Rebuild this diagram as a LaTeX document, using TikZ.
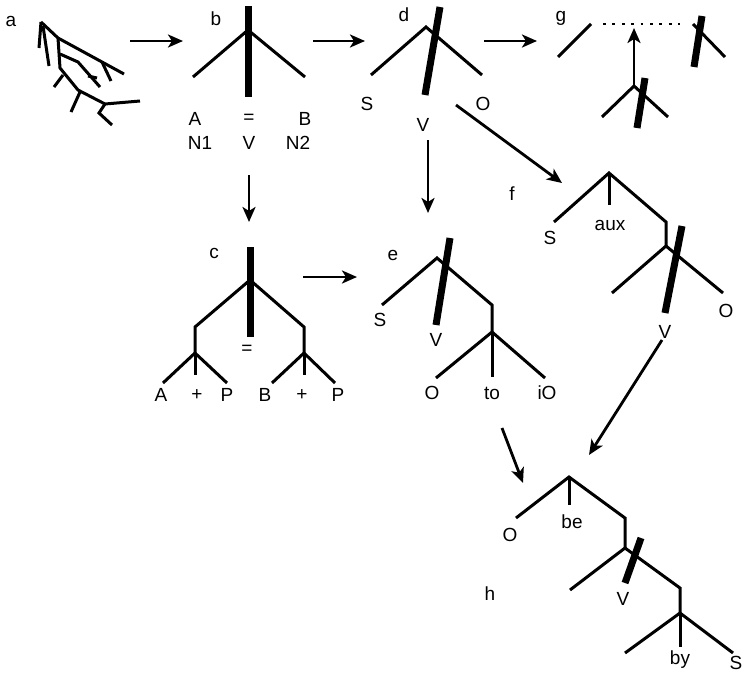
\documentclass[tikz,border=0pt]{standalone}
\usepackage{fontspec}
\setmainfont{Liberation Sans}
\usetikzlibrary{arrows.meta}
\begin{document}
\begin{tikzpicture}[x=1pt,y=-1pt,
  tl/.style={line width=3pt},
  tk/.style={line width=7pt},
  lbl/.style={inner sep=0pt, font=\fontsize{19}{22}\selectfont},
  arr/.style={line width=2.8pt, -{Stealth[length=15pt,width=13pt,inset=4pt]}},
  dotline/.style={line width=2.8pt, dash pattern=on 2.8pt off 6.6pt}]
\useasboundingbox (0,0) rectangle (744,680);

% ---------- a ----------
\node[lbl] (la) at (11,21) {a};
\coordinate (a0) at (41,22);
\coordinate (a1) at (58,38);
\coordinate (a2) at (60,68);
\coordinate (a3) at (78,90);
\coordinate (a4) at (105,104);
\draw[tl] (a0) -- (39,48);
\draw[tl] (43,26) -- (49,66);
\draw[tl] (a0) -- (a1) -- (124,74);
\draw[tl] (102,62) -- (111,81);
\draw[tl] (a1) -- (a2) -- (a3) -- (a4) -- (140,101);
\draw[tl] (60,54) -- (78,62) -- (100,87);
\draw[tl] (88,76) -- (97,78);
\draw[tl] (63,75) -- (54,87);
\draw[tl] (80,92) -- (71,112);
\draw[tl] (a4) -- (99,113) -- (112,125);

% ---------- b ----------
\node[lbl] (lb) at (216,19) {b};
\coordinate (b0) at (248,30);
\coordinate (btop) at (248,6);
\coordinate (bbot) at (248,97);
\draw[tk] (btop) -- (bbot);
\draw[tl] (193,77) -- (b0) -- (305,77);
\node[lbl] (bA) at (195,119) {A};
\node[lbl] (bEq) at (249,119) {=};
\node[lbl] (bB) at (305,119) {B};
\node[lbl] (bN1) at (200,143) {N1};
\node[lbl] (bV) at (249,143) {V};
\node[lbl] (bN2) at (298,143) {N2};

% ---------- d ----------
\node[lbl] (ld) at (404,15) {d};
\coordinate (d0) at (426,27);
\draw[tl] (371,75) -- (d0) -- (482,75);
\draw[tk] (440,7) -- (425,95);
\node[lbl] (dS) at (367,104) {S};
\node[lbl] (dO) at (483,104) {O};
\node[lbl] (dV) at (423,125) {V};

% ---------- g ----------
\node[lbl] (lg) at (561,18) {g};
\draw[tl] (558,57) -- (591,24);
\draw[dotline] (603,24) -- (680,24);
\draw[tk] (702,16) -- (694,67);
\draw[tl] (693,24) -- (725,57);
\coordinate (g0) at (634,86);
\coordinate (gtop) at (634,28);
\draw[tl] (602,117) -- (g0) -- (668,117);
\draw[tk] (645,78) -- (637,128);

% ---------- c ----------
\node[lbl] (lc) at (214,253) {c};
\coordinate (c0) at (250,280);
\coordinate (cl) at (195,353);
\coordinate (cr) at (304,353);
\draw[tk] (250,247) -- (250,337);
\draw[tl] (cl) -- (195,327) -- (c0) -- (304,327) -- (cr);
\draw[tl] (163,383) -- (cl) -- (227,383);
\draw[tl] (cl) -- (195,375);
\draw[tl] (272,383) -- (cr) -- (335,383);
\draw[tl] (cr) -- (304,375);
\node[lbl] (cEq) at (247,350) {=};
\node[lbl] (cA) at (161,395) {A};
\node[lbl] (cp1) at (197,395) {+};
\node[lbl] (cP1) at (227,395) {P};
\node[lbl] (cB) at (265,395) {B};
\node[lbl] (cp2) at (302,395) {+};
\node[lbl] (cP2) at (338,395) {P};

% ---------- e ----------
\node[lbl] (le) at (393,255) {e};
\coordinate (e0) at (437,258);
\coordinate (e1) at (492,332);
\draw[tl] (382,305) -- (e0) -- (492,305) -- (e1);
\draw[tl] (436,378) -- (e1) -- (545,378);
\draw[tl] (e1) -- (492,377);
\draw[tk] (450,238) -- (436,325);
\node[lbl] (eS) at (380,320) {S};
\node[lbl] (eV) at (436,340) {V};
\node[lbl] (eO) at (432,393) {O};
\node[lbl] (eto) at (492,393) {to};
\node[lbl] (eiO) at (547,393) {iO};

% ---------- f ----------
\node[lbl] (lf) at (512,194) {f};
\coordinate (f0) at (609,173);
\coordinate (f1) at (666,246);
\draw[tl] (554,222) -- (f0) -- (666,222) -- (f1);
\draw[tl] (f0) -- (609,205);
\draw[tl] (612,293) -- (f1) -- (723,293);
\draw[tk] (682,226) -- (665,313);
\node[lbl] (fS) at (550,238) {S};
\node[lbl] (faux) at (610,225) {aux};
\node[lbl] (fV) at (665,332) {V};
\node[lbl] (fO) at (726,311) {O};

% ---------- h ----------
\node[lbl] (lh) at (490,594) {h};
\coordinate (h0) at (569,477);
\coordinate (h1) at (625,548);
\coordinate (h2) at (680,613);
\draw[tl] (516,518) -- (h0) -- (625,518) -- (h1);
\draw[tl] (h0) -- (569,505);
\draw[tl] (570,590) -- (h1) -- (680,588) -- (h2);
\draw[tl] (625,653) -- (h2) -- (733,653);
\draw[tl] (h2) -- (680,647);
\draw[tk] (641,538) -- (625,583);
\node[lbl] (hO) at (510,535) {O};
\node[lbl] (hbe) at (572,522) {be};
\node[lbl] (hV) at (623,599) {V};
\node[lbl] (hby) at (680,660) {by};
\node[lbl] (hS) at (736,663) {S};

% ---------- arrows ----------
\coordinate (ab1) at (130,41); \coordinate (ab2) at (183,41);
\coordinate (bd1) at (313,41); \coordinate (bd2) at (365,41);
\coordinate (dg1) at (484,41); \coordinate (dg2) at (537,41);
\coordinate (bc1) at (249,175); \coordinate (bc2) at (249,222);
\coordinate (de1) at (428,140); \coordinate (de2) at (428,213);
\coordinate (df1) at (456,105); \coordinate (df2) at (562,183);
\coordinate (ce1) at (303,277); \coordinate (ce2) at (357,277);
\coordinate (eh1) at (502,428); \coordinate (eh2) at (523,483);
\coordinate (fh1) at (662,340); \coordinate (fh2) at (589,455);
\draw[arr] (ab1) -- (ab2);
\draw[arr] (bd1) -- (bd2);
\draw[arr] (dg1) -- (dg2);
\draw[arr] (bc1) -- (bc2);
\draw[arr] (de1) -- (de2);
\draw[arr] (df1) -- (df2);
\draw[arr] (ce1) -- (ce2);
\draw[arr] (eh1) -- (eh2);
\draw[arr] (fh1) -- (fh2);
\draw[arr] (g0) -- (gtop);
\end{tikzpicture}
\end{document}
